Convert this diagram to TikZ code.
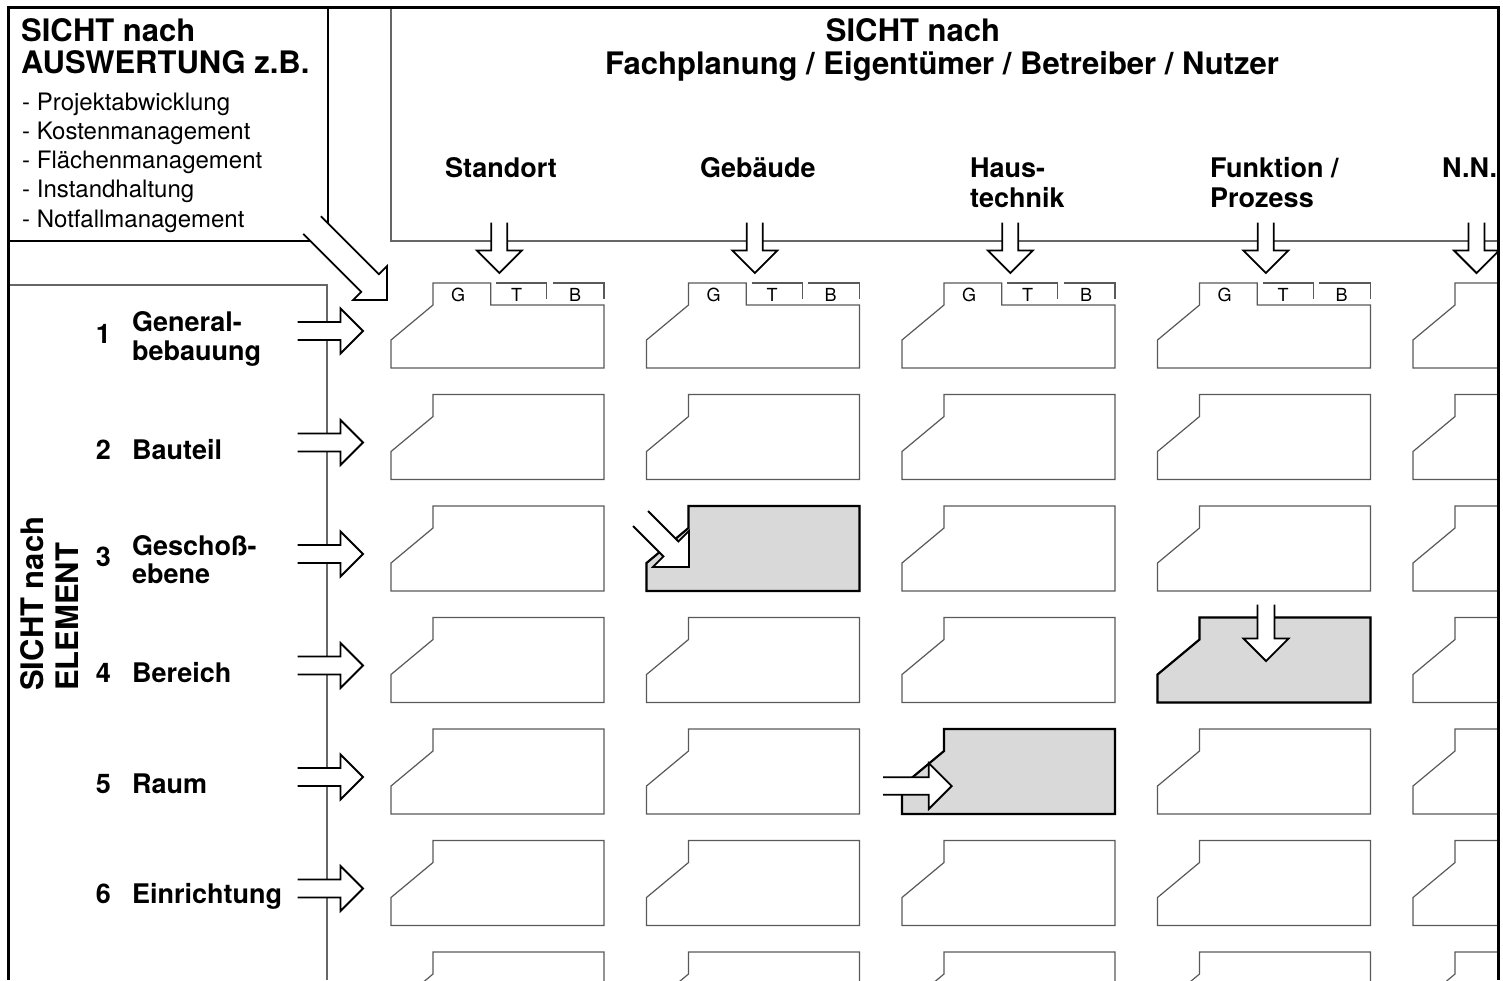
\documentclass[tikz,border=0pt]{standalone}
\usepackage{fontspec}
\setmainfont{TeX Gyre Heros}
% Zelle mit abgeschraegter Ecke, oben links an (0,0)
\def\zellenform{(42,0) -- (213,0) -- (213,85) -- (0,85) -- (0,57) -- (42,22) -- cycle}
% dieselbe Zelle mit Reiter G (erste Zeile)
\def\reiterform{(0,85) -- (0,57) -- (42,22) -- (42,0) -- (99.7,0) -- (99.7,22) -- (213,22) -- (213,85) -- cycle}
% Blockpfeil: Spitze, Winkel, halbe Schaftbreite, Schaftlaenge, halbe Kopfbreite
\newcommand{\blockpfeil}[5]{%
  \draw[pfeil,shift={(#1)},rotate=#2] (-#4-#5,#3) -- (-#5,#3) -- (-#5,#5) -- (0,0)
    -- (-#5,-#5) -- (-#5,-#3) -- (-#4-#5,-#3);}

\begin{document}
\begin{tikzpicture}[x=1pt,y=-1pt,
    zelle/.style={draw=black!65,line width=1.2pt},
    markiert/.style={draw=black,line width=2.2pt,fill=black!15,line join=miter},
    pfeil/.style={draw=black,line width=1.8pt,fill=white,line join=miter},
    duenn/.style={draw=black!60,line width=1.3pt},
    titel/.style={font=\fontsize{31}{34}\selectfont\bfseries,inner sep=0pt},
    spalte/.style={font=\fontsize{27}{30}\selectfont\bfseries,inner sep=0pt,anchor=base west},
    liste/.style={font=\fontsize{24}{27}\selectfont,inner sep=0pt,anchor=base west},
    reiter/.style={font=\fontsize{18}{20}\selectfont,inner sep=0pt,anchor=base}]
    \useasboundingbox (0,0) rectangle (1503,980);

    \begin{scope}
        \clip (8,7) rectangle (1498,980);
        % Kaesten links und oben
        \draw[line width=2pt] (8,241) -- (327.5,241) -- (327.5,7);
        \draw[duenn] (8,285) -- (327,285) -- (327,980);
        \draw[duenn] (391,7) -- (391,241) -- (1498,241);
        % erste Zeile mit Reitern G, T, B
        \foreach \s in {0,...,3}{
            \begin{scope}[shift={(391+\s*255.5,283)}]
                \draw[zelle] \reiterform;
                \draw[zelle] (105,0) -- (155.7,0) -- (155.7,16);
                \draw[zelle] (161.7,0) -- (213,0) -- (213,16);
                \node[reiter] (g\s) at (67,18.5) {G};
                \node[reiter] (t\s) at (125.7,18.5) {T};
                \node[reiter] (b\s) at (184,18.5) {B};
            \end{scope}
        }
        \draw[zelle,shift={(1413,283)}] \zellenform;
        % Raster der uebrigen Zellen
        \foreach \s in {0,...,4}
            \foreach \z in {1,...,6}
                \draw[zelle,shift={(391+\s*255.5,283+\z*111.5)}] \zellenform;
        % hervorgehobene Zellen
        \draw[markiert,shift={(646.5,506)}] \zellenform;
        \draw[markiert,shift={(1157.5,617.5)}] \zellenform;
        \draw[markiert,shift={(902,729)}] \zellenform;
        % Pfeile
        \foreach \x in {499.3,754.8,1010.3,1265.8,1476.5}{\blockpfeil{\x,273}{-90}{8}{28}{22.5}}
        \foreach \z in {0,...,5}{\blockpfeil{363,{331+\z*111.5}}{0}{9}{43}{22.5}}
        \blockpfeil{387,300}{-45}{12.5}{82}{24}
        \blockpfeil{689,567}{-45}{10.6}{43}{25.5}
        \blockpfeil{1266,661}{-90}{8.5}{34}{22.5}
        \blockpfeil{951.7,786}{0}{8.7}{45.7}{23}
    \end{scope}
    % Rahmen
    \draw[line width=3pt] (8,980) -- (8,7) -- (1498,7) -- (1498,980);

    % Auswertung
    \node[titel,anchor=base west] (ausw1) at (21,41) {SICHT nach};
    \node[titel,anchor=base west] (ausw2) at (21,73) {AUSWERTUNG z.B.};
    \foreach \t [count=\i] in {Projektabwicklung,Kostenmanagement,Flächenmanagement,Instandhaltung,Notfallmanagement}
        \node[liste] (liste\i) at (22,{110+(\i-1)*29.3}) {- \t};

    % Fachplanung
    \node[titel,anchor=base] (fach1) at (913,41) {SICHT nach};
    \node[titel,anchor=base] (fach2) at (942,74) {Fachplanung / Eigentümer / Betreiber / Nutzer};
    \node[spalte] (standort) at (445,177) {Standort};
    \node[spalte] (gebaeude) at (700,177) {Gebäude};
    \node[spalte] (haus) at (970,177) {Haus-};
    \node[spalte] (technik) at (970,207) {technik};
    \node[spalte] (funktion) at (1210,177) {Funktion /};
    \node[spalte] (prozess) at (1210,207) {Prozess};
    \node[spalte] (nn) at (1442,177) {N.N.};

    % Element
    \node[titel,rotate=90,anchor=base west] (elem1) at (43,691) {SICHT nach};
    \node[titel,rotate=90,anchor=base west] (elem2) at (78,691) {ELEMENT};
    \node[spalte,anchor=base east] (nr1) at (111,343) {1};
    \node[spalte] (general) at (132,331) {General-};
    \node[spalte] (bebauung) at (132,360) {bebauung};
    \node[spalte,anchor=base east] (nr2) at (111,459) {2};
    \node[spalte] (bauteil) at (132,459) {Bauteil};
    \node[spalte,anchor=base east] (nr3) at (111,566) {3};
    \node[spalte] (geschoss) at (132,555) {Geschoß-};
    \node[spalte] (ebene) at (132,583) {ebene};
    \node[spalte,anchor=base east] (nr4) at (111,682) {4};
    \node[spalte] (bereich) at (132,682) {Bereich};
    \node[spalte,anchor=base east] (nr5) at (111,793) {5};
    \node[spalte] (raum) at (132,793) {Raum};
    \node[spalte,anchor=base east] (nr6) at (111,903) {6};
    \node[spalte] (einrichtung) at (132,903) {Einrichtung};
\end{tikzpicture}
\end{document}
